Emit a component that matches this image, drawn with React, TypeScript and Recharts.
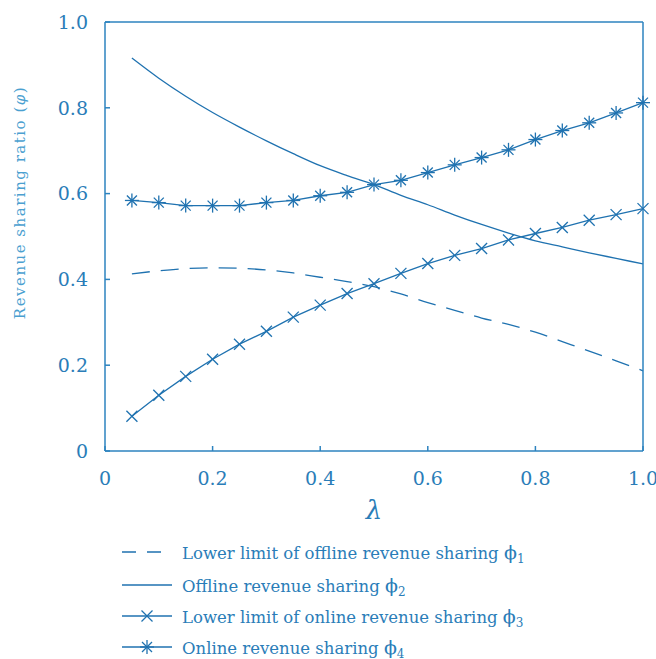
import React from "react";
import { LineChart, Line, XAxis, YAxis } from "recharts";

// lambda sample points and the four revenue sharing curves
const lambda = [0.05, 0.1, 0.15, 0.2, 0.25, 0.3, 0.35, 0.4, 0.45, 0.5, 0.55, 0.6, 0.65, 0.7, 0.75, 0.8, 0.85, 0.9, 0.95, 1.0];
const phi1 = [0.413, 0.42, 0.425, 0.427, 0.426, 0.422, 0.415, 0.405, 0.395, 0.383, 0.366, 0.346, 0.328, 0.31, 0.295, 0.277, 0.255, 0.233, 0.21, 0.187];
const phi2 = [0.916, 0.869, 0.827, 0.789, 0.755, 0.723, 0.693, 0.665, 0.642, 0.621, 0.596, 0.574, 0.55, 0.528, 0.508, 0.49, 0.476, 0.462, 0.449, 0.436];
const phi3 = [0.081, 0.13, 0.174, 0.214, 0.249, 0.279, 0.312, 0.34, 0.367, 0.39, 0.414, 0.437, 0.456, 0.472, 0.492, 0.507, 0.521, 0.538, 0.551, 0.565];
const phi4 = [0.584, 0.579, 0.572, 0.572, 0.572, 0.579, 0.584, 0.595, 0.603, 0.621, 0.631, 0.649, 0.667, 0.684, 0.702, 0.726, 0.747, 0.765, 0.788, 0.812];

const xTicks = [0, 0.2, 0.4, 0.6, 0.8, 1.0];
const yTicks = [0, 0.2, 0.4, 0.6, 0.8, 1.0];

const legendLabels = [
  "Lower limit of offline revenue sharing ",
  "Offline revenue sharing ",
  "Lower limit of online revenue sharing ",
  "Online revenue sharing ",
];
const legendSubs = ["1", "2", "3", "4"];

const data = lambda.map((l, i) => ({
  lambda: l,
  phi1: phi1[i],
  phi2: phi2[i],
  phi3: phi3[i],
  phi4: phi4[i],
}));

const LINE = "#1f72b0";
const AXIS = "#2d83bf";
const TEXT = "#2a7db8";
const SERIF = "'DejaVu Serif', serif";

const fmt = (v: number) => (v === 0 ? "0" : v.toFixed(1));

function XMark(props: any) {
  const { cx, cy, index } = props;
  if (cx == null || cy == null) return <g key={`x-${index}`} />;
  const s = 5.5;
  return (
    <g key={`x-${index}`} stroke={LINE} strokeWidth={1.3}>
      <line x1={cx - s} y1={cy - s} x2={cx + s} y2={cy + s} />
      <line x1={cx - s} y1={cy + s} x2={cx + s} y2={cy - s} />
    </g>
  );
}

function StarMark(props: any) {
  const { cx, cy, index } = props;
  if (cx == null || cy == null) return <g key={`s-${index}`} />;
  const s = 7;
  const d = 5;
  return (
    <g key={`s-${index}`} stroke={LINE} strokeWidth={1.3}>
      <line x1={cx} y1={cy - s} x2={cx} y2={cy + s} />
      <line x1={cx - s} y1={cy} x2={cx + s} y2={cy} />
      <line x1={cx - d} y1={cy - d} x2={cx + d} y2={cy + d} />
      <line x1={cx - d} y1={cy + d} x2={cx + d} y2={cy - d} />
    </g>
  );
}

function LegendSymbol({ idx }: { idx: number }) {
  return (
    <svg width={52} height={16} style={{ display: "block" }}>
      <line
        x1={0}
        y1={8}
        x2={50}
        y2={8}
        stroke={LINE}
        strokeWidth={1.3}
        strokeDasharray={idx === 0 ? "14 11" : undefined}
      />
      {idx === 2 && <XMark cx={25} cy={8} index={0} />}
      {idx === 3 && <StarMark cx={25} cy={8} index={0} />}
    </svg>
  );
}

export default function App() {
  return (
    <div
      style={{
        position: "absolute",
        left: 0,
        top: 0,
        width: 656,
        height: 659,
        background: "#fff",
        overflow: "hidden",
      }}
    >
      <LineChart width={656} height={530} data={data} margin={{ top: 21, right: 12, left: 0, bottom: 10 }}>
        <XAxis
          dataKey="lambda"
          type="number"
          domain={[0, 1]}
          ticks={xTicks}
          tickFormatter={fmt}
          height={69}
          stroke={AXIS}
          strokeWidth={1.5}
          tickSize={-5}
          tickMargin={26}
          tick={{ fill: TEXT, fontSize: 19, fontFamily: SERIF }}
          label={{
            content: (p: any) => {
              const vb = p.viewBox;
              return (
                <text
                  x={vb.x + vb.width / 2}
                  y={vb.y + 68}
                  textAnchor="middle"
                  fill={TEXT}
                  fontSize={26}
                  fontStyle="italic"
                  fontFamily={SERIF}
                >
                  λ
                </text>
              );
            },
          }}
        />
        <XAxis
          xAxisId="top"
          dataKey="lambda"
          type="number"
          orientation="top"
          domain={[0, 1]}
          ticks={xTicks}
          height={1}
          stroke={AXIS}
          strokeWidth={1.5}
          tickSize={-5}
          tick={false}
        />
        <YAxis
          type="number"
          domain={[0, 1]}
          ticks={yTicks}
          tickFormatter={fmt}
          width={105}
          stroke={AXIS}
          strokeWidth={1.5}
          tickSize={-5}
          tickMargin={22}
          tick={{ fill: TEXT, fontSize: 19, fontFamily: SERIF }}
          label={{
            content: (p: any) => {
              const vb = p.viewBox;
              const x = vb.x + 25;
              const y = vb.y + vb.height / 2 - 34;
              return (
                <text
                  transform={`translate(${x},${y}) rotate(-90)`}
                  textAnchor="middle"
                  fill="#4aa0d0"
                  fontSize={15}
                  letterSpacing={1.5}
                  fontFamily={SERIF}
                >
                  Revenue sharing ratio (<tspan fontStyle="italic">φ</tspan>)
                </text>
              );
            },
          }}
        />
        <YAxis
          yAxisId="right"
          orientation="right"
          type="number"
          domain={[0, 1]}
          ticks={yTicks}
          width={1}
          stroke={AXIS}
          strokeWidth={1.5}
          tickSize={-5}
          tick={false}
        />
        <Line
          type="monotone"
          dataKey="phi1"
          stroke={LINE}
          strokeWidth={1.3}
          strokeDasharray="18 11"
          dot={false}
          isAnimationActive={false}
        />
        <Line
          type="monotone"
          dataKey="phi2"
          stroke={LINE}
          strokeWidth={1.3}
          dot={false}
          isAnimationActive={false}
        />
        <Line
          type="linear"
          dataKey="phi3"
          stroke={LINE}
          strokeWidth={1.3}
          dot={(p: any) => <XMark {...p} />}
          isAnimationActive={false}
        />
        <Line
          type="linear"
          dataKey="phi4"
          stroke={LINE}
          strokeWidth={1.3}
          dot={(p: any) => <StarMark {...p} />}
          isAnimationActive={false}
        />
      </LineChart>
      <div style={{ position: "absolute", left: 122, top: 535, fontFamily: SERIF, color: TEXT, fontSize: 16.5 }}>
        {legendLabels.map((label, i) => (
          <div key={label} style={{ display: "flex", alignItems: "center", height: i === 0 ? 34 : 31 }}>
            <LegendSymbol idx={i} />
            <span style={{ marginLeft: 8 }}>
              {label}
              <span style={{ fontSize: 19 }}>ϕ</span>
              <span style={{ fontSize: 12, position: "relative", top: 4 }}>{legendSubs[i]}</span>
            </span>
          </div>
        ))}
      </div>
    </div>
  );
}
